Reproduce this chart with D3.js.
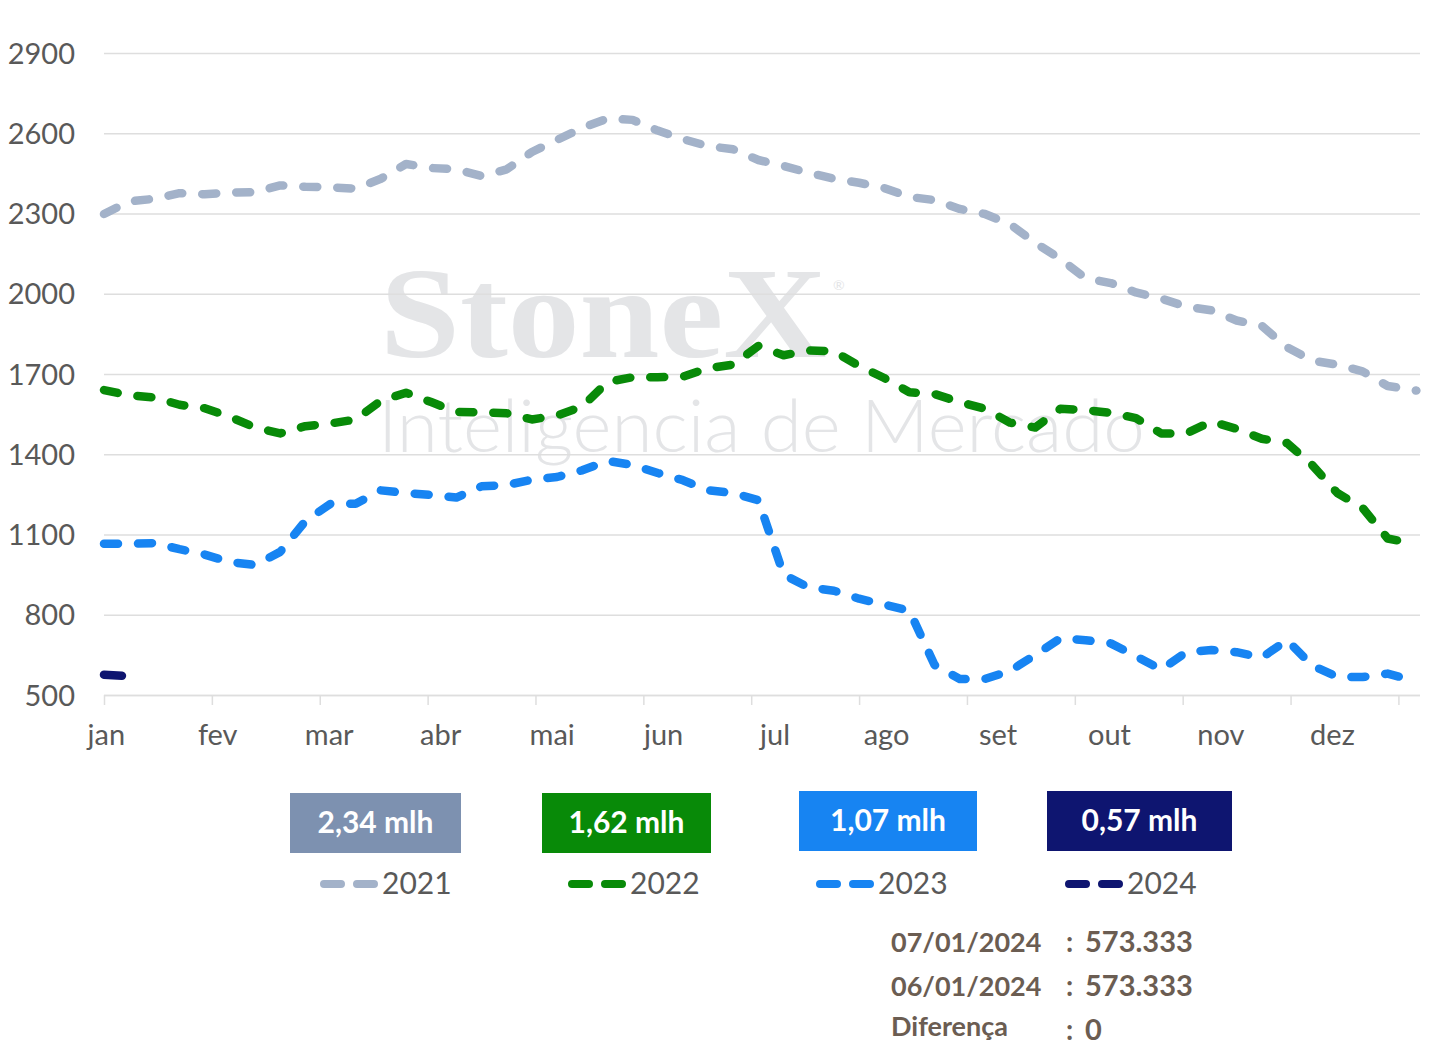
<!DOCTYPE html>
<html><head><meta charset="utf-8">
<script src="https://cdn.jsdelivr.net/npm/d3@7"></script>
<style>
html,body{margin:0;padding:0;background:#fff;}
svg{display:block;font-family:Lato,"Open Sans",sans-serif;}
</style></head>
<body>
<svg id="c" width="1455" height="1053"></svg>
<script>
// ---- data ----
const days = [0,7,14,21,28,35,42,49,56,63,70,77,84,91,98,105,112,119,126,133,140,147,154,161,168,175,182,189,196,203,210,217,224,231,238,245,252,259,266,273,280,287,294,301,308,315,322,329,336,343,350,357,362,365];
const s2021 = [2298,2345,2355,2376,2372,2378,2380,2405,2400,2398,2393,2430,2485,2470,2465,2440,2465,2530,2575,2620,2655,2650,2610,2578,2552,2540,2500,2478,2452,2430,2415,2395,2362,2350,2317,2298,2260,2190,2130,2058,2040,2005,1982,1952,1938,1900,1880,1800,1750,1735,1710,1655,1645,1638];
const s2022 = [1640,1620,1612,1585,1572,1540,1500,1478,1505,1515,1530,1600,1630,1595,1558,1557,1553,1530,1545,1578,1670,1688,1688,1690,1722,1735,1805,1770,1788,1785,1730,1685,1632,1625,1595,1570,1518,1500,1570,1565,1555,1535,1478,1478,1522,1495,1458,1442,1360,1255,1200,1085,1072,1068];
const s2023 = [1065,1065,1068,1045,1025,997,986,1035,1150,1215,1215,1265,1255,1248,1238,1280,1285,1305,1315,1340,1375,1360,1330,1303,1265,1255,1228,950,902,890,860,838,815,612,560,560,590,650,712,705,693,645,595,660,668,660,640,705,610,568,567,580,562,null];
const s2024 = [576,570];
const seriesNames = ["2021","2022","2023","2024"];
const seriesColors = ["#a3b2c9","#088a08","#1784f2","#0e1570"];
const boxColors = ["#7d91b0","#088a08","#1784f2","#0e1570"];
const boxLabels = ["2,34 mlh","1,62 mlh","1,07 mlh","0,57 mlh"];
const monthLabels = ["jan","fev","mar","abr","mai","jun","jul","ago","set","out","nov","dez"];
const yTicks = [500,800,1100,1400,1700,2000,2300,2600,2900];
const infoLabels = ["07/01/2024","06/01/2024","Diferença"];
const infoValues = ["573.333","573.333","0"];

// ---- chart ----
const svg = d3.select("#c");
const x = d3.scaleLinear().domain([0,366]).range([104,1420]);
const y = d3.scaleLinear().domain([500,2900]).range([695,53]);

// watermark
svg.append("text").attr("x",380).attr("y",357).attr("font-family","'Liberation Serif','DejaVu Serif',serif")
  .attr("font-weight","bold").attr("font-size",130).attr("fill","#e4e5e7")
  .attr("textLength",447).attr("lengthAdjust","spacingAndGlyphs").text("StoneX");
svg.append("text").attr("x",833).attr("y",290).attr("font-size",14).attr("fill","#e4e5e7").text("®");
svg.append("text").attr("x",378).attr("y",452).attr("font-weight",300).attr("font-size",72).attr("fill","#e4e5e7")
  .attr("textLength",767).attr("lengthAdjust","spacingAndGlyphs").text("Inteligencia de Mercado");

// grid
const grid = svg.append("g").attr("transform","translate(104,0)")
  .call(d3.axisRight(y).tickValues(yTicks).tickSize(1316).tickFormat(""));
grid.select(".domain").remove();
grid.selectAll("line").attr("stroke","#dedede").attr("stroke-width",1.5);

// y labels
const ya = svg.append("g").attr("transform","translate(75,0)")
  .call(d3.axisLeft(y).tickValues(yTicks).tickSize(0).tickPadding(0).tickFormat(d3.format("d")));
ya.select(".domain").remove();
ya.selectAll("text").attr("font-size",29).attr("fill","#595959").attr("font-family","Lato,sans-serif").attr("dy","0.35em");

// x axis ticks
const xt = svg.append("g").attr("transform","translate(0,695)")
  .call(d3.axisBottom(x).tickValues(d3.range(0,361,30)).tickSize(10).tickFormat(""));
xt.select(".domain").attr("d","M104,0.5H1420").attr("stroke","#dedede").attr("stroke-width",1.5);
xt.selectAll("line").attr("stroke","#dedede").attr("stroke-width",1.5);

// x labels
const xl = svg.append("g").attr("transform","translate(0,695)")
  .call(d3.axisBottom(x).tickValues(monthLabels.map((m,i)=>i*31+0.5)).tickSize(0).tickPadding(0)
    .tickFormat((d,i)=>monthLabels[i]));
xl.select(".domain").remove();
xl.selectAll("text").attr("font-size",29).attr("fill","#595959").attr("font-family","Lato,sans-serif").attr("dy","50");

// lines
const allSeries = [s2021,s2022,s2023,s2024];
const line = d3.line().defined(d=>d[1]!=null).x(d=>x(d[0])).y(d=>y(d[1]));
allSeries.forEach((s,i)=>{
  const pts = s.map((v,j)=>[days[j],v]);
  svg.append("path").datum(pts).attr("d",line).attr("fill","none")
    .attr("stroke",seriesColors[i]).attr("stroke-width",8.5)
    .attr("stroke-linecap","round").attr("stroke-linejoin","round")
    .attr("stroke-dasharray",i===3?"18 20":"14 20");
});

// boxes
const boxX = [290,542,799,1047], boxW = [171,169,178,185], boxY=[793,793,791,791];
boxLabels.forEach((t,i)=>{
  svg.append("rect").attr("x",boxX[i]).attr("y",boxY[i]).attr("width",boxW[i]).attr("height",60).attr("fill",boxColors[i]);
  svg.append("text").attr("x",boxX[i]+boxW[i]/2).attr("y",boxY[i]+40).attr("text-anchor","middle")
    .attr("font-weight","bold").attr("font-size",30).attr("fill","#fff").text(t);
});

// legend
const legX = [320,568,816,1065];
seriesNames.forEach((n,i)=>{
  svg.append("line").attr("x1",legX[i]+4).attr("x2",legX[i]+56).attr("y1",884).attr("y2",884)
    .attr("stroke",seriesColors[i]).attr("stroke-width",8).attr("stroke-linecap","round")
    .attr("stroke-dasharray","17 16");
  svg.append("text").attr("x",legX[i]+62).attr("y",894).attr("font-size",30).attr("fill","#595959").text(n);
});

// info
infoLabels.forEach((t,i)=>{
  const yy = [952,996,1036][i];
  const yv = yy+(i==2?4:0);
  svg.append("text").attr("x",891).attr("y",yy).attr("font-weight","bold").attr("font-size",27).attr("fill","#6b5d52").text(t);
  svg.append("text").attr("x",1066).attr("y",yv).attr("font-weight","bold").attr("font-size",28).attr("fill","#6b5d52").text(":");
  svg.append("text").attr("x",1085).attr("y",yv).attr("font-weight","bold").attr("font-size",29).attr("fill","#6b5d52").text(infoValues[i]);
});
</script>
</body></html>
